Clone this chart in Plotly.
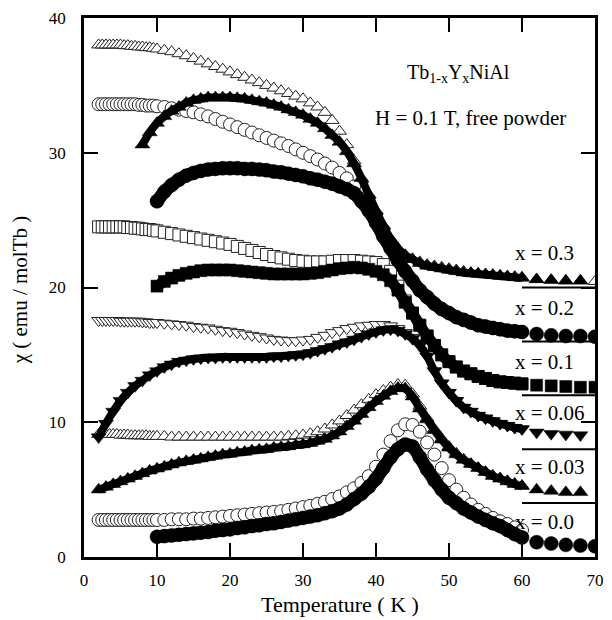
import plotly.graph_objects as go

# ---- temperature grids (K) ----
T_FC = [2.0, 2.5, 3.0, 3.5, 4.0, 4.5, 5.0, 5.5, 6.0, 6.5, 7.0, 7.5, 8.0, 8.5,
        9.0, 9.5, 10.0] + list(range(11, 61))
T_TAIL = [62, 64, 66, 68, 70]

# ---- field-cooled curves (open symbols), chi in emu/molTb ----
FC_030 = [38.0, 38.0, 38.0, 38.0, 38.0, 38.0, 38.0, 37.95, 37.95, 37.9, 37.9, 37.85, 37.85, 37.8, 37.8, 37.75, 37.7,
          37.6, 37.5, 37.35, 37.2, 37.0, 36.8, 36.6, 36.4, 36.2, 36.0,
          35.8, 35.6, 35.4, 35.2, 35.0, 34.8, 34.6, 34.4, 34.2, 34.0,
          33.7, 33.4, 33.0, 32.4, 31.6, 30.6, 29.4, 28.0, 26.8, 25.6,
          24.5, 23.6, 22.9, 22.4, 22.1, 21.9, 21.7, 21.6, 21.5, 21.4,
          21.3, 21.2, 21.1, 21.05, 21.0, 20.95, 20.9, 20.85, 20.8, 20.75,
          20.6, 20.55, 20.5, 20.5, 20.45]
FC_020 = [33.6, 33.6, 33.6, 33.6, 33.6, 33.6, 33.6, 33.6, 33.6, 33.6, 33.6, 33.55, 33.55, 33.5, 33.5, 33.5, 33.45,
          33.4, 33.3, 33.2, 33.1, 33.0, 32.85, 32.7, 32.5, 32.3, 32.1,
          31.9, 31.7, 31.5, 31.3, 31.1, 30.9, 30.7, 30.5, 30.25, 30.0,
          29.75, 29.5, 29.2, 28.9, 28.5, 28.1, 27.5, 26.6, 25.7, 24.8,
          23.8, 22.9, 22.0, 21.2, 20.5, 19.8, 19.3, 18.8, 18.4, 18.1,
          17.8, 17.6, 17.4, 17.2, 17.1, 17.0, 16.9, 16.8, 16.75, 16.7]
FC_010 = [24.5, 24.5, 24.5, 24.5, 24.5, 24.5, 24.5, 24.5, 24.45, 24.45, 24.4, 24.4, 24.35, 24.3, 24.3, 24.25, 24.2,
          24.1, 24.0, 23.9, 23.8, 23.7, 23.6, 23.5, 23.4, 23.3, 23.2,
          23.05, 22.9, 22.75, 22.6, 22.45, 22.3, 22.2, 22.1, 22.0, 21.95,
          21.9, 21.9, 21.9, 21.95, 22.0, 22.0, 22.0, 21.95, 21.9, 21.85,
          21.7, 21.2, 20.1, 19.0, 18.1, 17.2, 16.4, 15.7, 15.0, 14.5,
          14.1, 13.8, 13.6, 13.4, 13.25, 13.1, 13.0, 12.95, 12.9, 12.85]
FC_006 = [17.55, 17.55, 17.55, 17.55, 17.55, 17.55, 17.5, 17.5, 17.5, 17.5, 17.5, 17.5, 17.45, 17.45, 17.4, 17.4, 17.4,
          17.35, 17.3, 17.25, 17.2, 17.1, 17.05, 17.0, 16.9, 16.8, 16.75,
          16.65, 16.55, 16.45, 16.35, 16.25, 16.15, 16.1, 16.05, 16.05, 16.1,
          16.15, 16.3, 16.45, 16.65, 16.8, 16.95, 17.05, 17.15, 17.2, 17.25,
          17.25, 17.15, 16.95, 16.65, 16.3, 15.8, 14.9, 13.8, 12.9, 12.2,
          11.6, 11.1, 10.8, 10.5, 10.3, 10.1, 9.9, 9.75, 9.6, 9.5]
FC_003 = [9.1, 9.1, 9.1, 9.1, 9.1, 9.1, 9.05, 9.05, 9.05, 9.0, 9.0, 9.0, 9.0, 9.0, 8.95, 8.95, 8.95,
          8.95, 8.9, 8.9, 8.9, 8.9, 8.9, 8.9, 8.9, 8.9, 8.9,
          8.9, 8.9, 8.9, 8.9, 8.9, 8.9, 8.9, 8.95, 9.0, 9.05,
          9.15, 9.3, 9.5, 9.8, 10.1, 10.5, 10.9, 11.3, 11.7, 12.05,
          12.35, 12.6, 12.8, 12.75, 12.1, 11.2, 10.3, 9.5, 8.8, 8.2,
          7.7, 7.25, 6.9, 6.6, 6.3, 6.05, 5.85, 5.65, 5.45, 5.3]
FC_000 = [2.75, 2.75, 2.75, 2.75, 2.75, 2.75, 2.75, 2.75, 2.75, 2.75, 2.75, 2.75, 2.75, 2.75, 2.75, 2.75, 2.75,
          2.75, 2.8, 2.8, 2.8, 2.85, 2.85, 2.9, 2.95, 3.0, 3.05,
          3.1, 3.15, 3.2, 3.25, 3.3, 3.35, 3.4, 3.5, 3.6, 3.7,
          3.8, 3.95, 4.1, 4.3, 4.5, 4.8, 5.1, 5.5, 6.0, 6.7,
          7.6, 8.6, 9.4, 9.85, 9.8, 9.3, 8.5, 7.6, 6.6, 5.7,
          5.0, 4.4, 3.9, 3.5, 3.2, 2.9, 2.65, 2.45, 2.2, 2.0]

# ---- zero-field-cooled curves (filled symbols) ----
ZFC_030 = [30.6, 31.5, 32.2,
           32.7, 33.1, 33.4, 33.7, 33.9, 34.0, 34.1, 34.1, 34.1, 34.1,
           34.05, 34.0, 33.9, 33.8, 33.7, 33.55, 33.4, 33.2, 33.0, 32.8,
           32.5, 32.2, 31.8, 31.3, 30.8, 30.1, 29.2, 28.1, 26.9, 25.7,
           24.6, 23.6, 22.9, 22.4, 22.1, 21.8, 21.6, 21.5, 21.4, 21.3,
           21.2, 21.1, 21.05, 21.0, 20.95, 20.9, 20.85, 20.8, 20.75, 20.7,
           20.6, 20.55, 20.5, 20.5]
ZFC_020 = [26.4, 27.1, 27.6, 28.0, 28.3, 28.5, 28.65, 28.75, 28.8, 28.85, 28.85,
           28.85, 28.8, 28.8, 28.75, 28.7, 28.6, 28.55, 28.45, 28.35, 28.25,
           28.1, 28.0, 27.85, 27.7, 27.5, 27.3, 27.0, 26.4, 25.7, 24.8,
           23.8, 22.9, 22.0, 21.2, 20.5, 19.8, 19.3, 18.8, 18.4, 18.1,
           17.8, 17.6, 17.4, 17.2, 17.1, 17.0, 16.9, 16.8, 16.75, 16.7,
           16.55, 16.45, 16.4, 16.4, 16.35]
ZFC_010 = [20.1, 20.45, 20.7, 20.9, 21.05, 21.15, 21.25, 21.3, 21.3, 21.3, 21.3,
           21.25, 21.2, 21.15, 21.1, 21.05, 21.0, 21.0, 21.0, 21.0, 21.0,
           21.05, 21.1, 21.2, 21.3, 21.4, 21.45, 21.5, 21.45, 21.35, 21.2,
           20.95, 20.5, 19.8, 18.9, 18.1, 17.2, 16.4, 15.7, 15.0, 14.5,
           14.1, 13.8, 13.6, 13.4, 13.25, 13.1, 13.0, 12.95, 12.9, 12.85,
           12.75, 12.7, 12.65, 12.6, 12.6]
ZFC_006 = [8.9, 9.9, 10.8, 11.6, 12.2, 12.7, 13.1, 13.5, 13.8,
           14.1, 14.3, 14.5, 14.6, 14.7, 14.75, 14.8, 14.8, 14.85, 14.85,
           14.85, 14.85, 14.85, 14.85, 14.85, 14.9, 14.9, 14.95, 15.0, 15.05,
           15.15, 15.3, 15.45, 15.6, 15.8, 15.95, 16.15, 16.35, 16.55, 16.7,
           16.85, 16.9, 16.8, 16.55, 16.2, 15.7, 14.9, 13.8, 12.9, 12.2,
           11.6, 11.1, 10.8, 10.5, 10.3, 10.1, 9.9, 9.75, 9.6, 9.5,
           9.25, 9.15, 9.1, 9.05]
ZFC_003 = [5.0, 5.2, 5.4, 5.6, 5.8, 6.0, 6.2, 6.4, 6.55,
           6.7, 6.85, 7.0, 7.1, 7.2, 7.3, 7.4, 7.5, 7.6, 7.65,
           7.75, 7.8, 7.9, 7.95, 8.0, 8.1, 8.15, 8.2, 8.3, 8.35,
           8.45, 8.6, 8.75, 9.0, 9.3, 9.7, 10.1, 10.6, 11.1, 11.55,
           11.95, 12.3, 12.55, 12.5, 11.9, 11.0, 10.2, 9.4, 8.7, 8.1,
           7.6, 7.2, 6.9, 6.6, 6.3, 6.0, 5.8, 5.6, 5.4, 5.25,
           5.0, 4.9, 4.8, 4.8]
ZFC_000 = [1.5, 1.55, 1.6, 1.65, 1.7, 1.75, 1.8, 1.85, 1.95, 2.0, 2.05,
           2.15, 2.2, 2.3, 2.35, 2.45, 2.5, 2.6, 2.7, 2.8, 2.9,
           3.0, 3.1, 3.25, 3.4, 3.6, 3.9, 4.3, 4.7, 5.2, 5.8,
           6.6, 7.4, 8.0, 8.35, 8.2, 7.4, 6.5, 5.7, 5.0, 4.4,
           4.0, 3.6, 3.3, 3.0, 2.75, 2.5, 2.3, 2.0, 1.7, 1.45,
           1.1, 1.0, 0.9, 0.85, 0.8]

T_ZFC_030 = list(range(8, 61)) + T_TAIL[:4]
T_ZFC_START10 = list(range(10, 61)) + T_TAIL
T_ZFC_START2 = list(range(2, 61)) + T_TAIL[:4]

# composition labels and zero baselines of the offset curves
LABELS = ["x = 0.3", "x = 0.2", "x = 0.1", "x = 0.06", "x = 0.03", "x = 0.0"]
LABEL_Y = [22.55, 18.47, 14.47, 10.68, 6.68, 2.6]
LABEL_T = 58.7
BASELINES = [20, 16, 12, 8, 4]
BASELINE_T = [60, 70]
DENSE_LIMIT = 60  # above this the sweep was recorded in coarse 2 K steps

FONT = "Liberation Serif"

# (temperatures, values, symbol, marker size)
open_series = [
    (T_FC + T_TAIL, FC_030, "triangle-up", 12),
    (T_FC, FC_020, "circle", 13),
    (T_FC, FC_010, "square", 12),
    (T_FC, FC_006, "triangle-down", 12),
    (T_FC, FC_003, "triangle-up", 12),
    (T_FC, FC_000, "circle", 13),
]
# (temperatures, values, symbol, marker size, width of the dense band)
filled_series = [
    (T_ZFC_030, ZFC_030, "triangle-up", 13, 8),
    (T_ZFC_START10, ZFC_020, "circle", 14, 13),
    (T_ZFC_START10, ZFC_010, "square", 12, 11),
    (T_ZFC_START2, ZFC_006, "triangle-down", 13, 8),
    (T_ZFC_START2, ZFC_003, "triangle-up", 13, 8),
    (T_ZFC_START10, ZFC_000, "circle", 14, 13),
]

for s in open_series + filled_series:
    assert len(s[0]) == len(s[1]), (len(s[0]), len(s[1]))

fig = go.Figure()

for base in BASELINES:
    fig.add_trace(go.Scatter(x=BASELINE_T, y=[base, base], mode="lines",
                             line=dict(color="black", width=2), hoverinfo="skip"))

for t, v, sym, size in open_series:
    fig.add_trace(go.Scatter(
        x=t, y=v, mode="markers",
        marker=dict(symbol=sym, size=size, color="white",
                    line=dict(color="#222222", width=1))))

for t, v, sym, size, band in filled_series:
    dense_t = [a for a in t if a <= DENSE_LIMIT]
    dense_v = [b for a, b in zip(t, v) if a <= DENSE_LIMIT]
    tail_t = [a for a in t if a > DENSE_LIMIT]
    tail_v = [b for a, b in zip(t, v) if a > DENSE_LIMIT]
    # densely sampled part: overlapping symbols merge into a solid band
    fig.add_trace(go.Scatter(
        x=dense_t, y=dense_v, mode="lines+markers",
        line=dict(color="black", width=band, shape="spline", smoothing=0.6),
        marker=dict(symbol=sym, size=size, color="black",
                    line=dict(color="black", width=0.5))))
    fig.add_trace(go.Scatter(
        x=tail_t, y=tail_v, mode="markers",
        marker=dict(symbol=sym, size=size, color="black",
                    line=dict(color="black", width=0.5))))

for text, y in zip(LABELS, LABEL_Y):
    fig.add_annotation(x=LABEL_T, y=y, text=text, showarrow=False,
                       xanchor="left", yanchor="middle",
                       font=dict(family=FONT, size=21, color="black"))

fig.add_annotation(x=51.3, y=35.9, text="Tb<sub>1-x</sub>Y<sub>x</sub>NiAl",
                   showarrow=False, xanchor="center", yanchor="middle",
                   font=dict(family=FONT, size=20, color="black"))
fig.add_annotation(x=53.0, y=32.6, text="H = 0.1 T, free powder",
                   showarrow=False, xanchor="center", yanchor="middle",
                   font=dict(family=FONT, size=21, color="black"))

# axis titles
fig.add_annotation(xref="paper", yref="paper", x=0.5, y=-0.089,
                   text="Temperature ( K )", showarrow=False,
                   xanchor="center", yanchor="middle",
                   font=dict(family=FONT, size=22, color="black"))
fig.add_annotation(xref="paper", yref="paper", x=-0.125, y=0.495,
                   text="χ ( emu / molTb )", showarrow=False, textangle=-90,
                   xanchor="center", yanchor="middle",
                   font=dict(family=FONT, size=21, color="black"))

axis_common = dict(
    showgrid=False, zeroline=False, showline=True, linecolor="black",
    linewidth=2.5, mirror="allticks", ticks="inside", ticklen=14,
    tickwidth=2, tickcolor="black",
    tickfont=dict(family=FONT, size=17, color="black"),
)

fig.update_xaxes(range=[0, 70], tickvals=[0, 10, 20, 30, 40, 50, 60, 70],
                 ticklabelstandoff=6, **axis_common)
fig.update_yaxes(range=[0, 40], tickvals=[0, 10, 20, 30, 40],
                 ticklabelstandoff=12, **axis_common)

fig.update_layout(
    width=612, height=620,
    margin=dict(l=84, r=8, t=18, b=63),
    paper_bgcolor="white", plot_bgcolor="white",
    showlegend=False,
)

fig.write_html("out.html")
